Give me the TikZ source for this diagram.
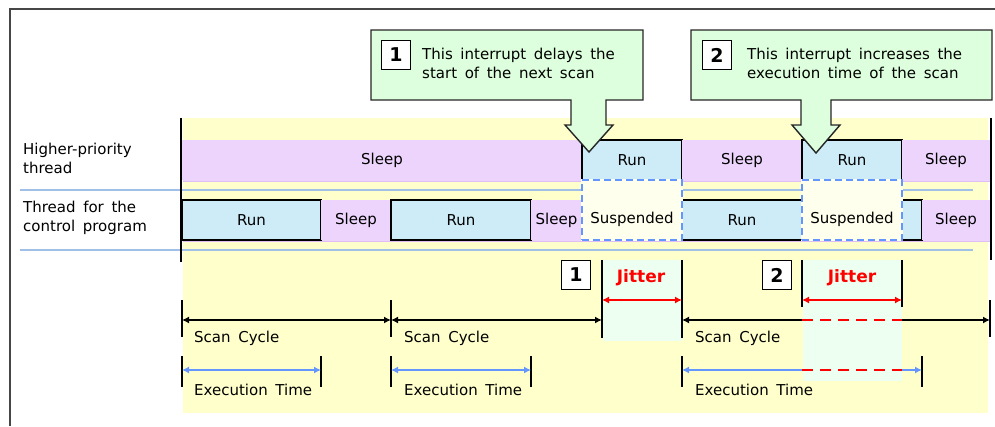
\documentclass[tikz,border=0pt]{standalone}
\usepackage{fontspec}
\setmainfont{DejaVu Sans}[WordSpace=1.6]
\usetikzlibrary{arrows.meta}
\definecolor{bgyellow}{RGB}{255,255,204}
\definecolor{sleeppurple}{RGB}{236,212,252}
\definecolor{sleepedge}{RGB}{222,190,245}
\definecolor{runblue}{RGB}{206,236,248}
\definecolor{suspfill}{RGB}{255,255,238}
\definecolor{dashblue}{RGB}{100,150,255}
\definecolor{sepblue}{RGB}{160,192,232}
\definecolor{calloutgreen}{RGB}{221,255,221}
\definecolor{jittergreen}{RGB}{236,255,240}
\definecolor{framegray}{RGB}{70,70,70}

\begin{document}
\begin{tikzpicture}[x=1pt, y=-1pt,
    every node/.style={font=\fontsize{15}{19}\selectfont},
    seg/.style={inner sep=0pt, minimum height=40pt},
    sleepseg/.style={seg, fill=sleeppurple},
    runseg/.style={seg, fill=runblue, draw=black, line width=1.7pt},
    suspseg/.style={inner sep=0pt, minimum width=100pt, minimum height=60pt, fill=suspfill, draw=suspfill, line width=2.4pt,
        postaction={draw=dashblue, dash pattern=on 7pt off 4pt, line width=1.6pt}},
    badge/.style={draw, fill=white, line width=1.6pt, minimum width=29pt, minimum height=29pt, inner sep=0pt,
        font=\fontsize{19}{19}\selectfont\bfseries},
    callout/.style={draw=black!85, fill=calloutgreen, line width=1.4pt, line join=miter},
    sep/.style={draw=sepblue, line width=2pt},
    tick/.style={line width=1.7pt},
    dim/.style={line width=1.7pt, >={Latex[length=7pt,width=7pt]}},
    jit/.style={text=red, font=\fontsize{17}{17}\selectfont\bfseries},
    lbl/.style={anchor=west, align=left, inner sep=0pt}]

\useasboundingbox (0,0) rectangle (995,426);
\draw[framegray, line width=1.8pt] (10,426) -- (10,9) -- (995,9);

% background of the time chart
\fill[bgyellow] (183,118) rectangle (988,413);
\fill[sleeppurple] (183,140) rectangle (990,181);
\fill[sleeppurple] (183,200) rectangle (990,241);
\draw[sleepedge, line width=0.8pt] (183,140) -- (990,140) (183,181) -- (990,181) (183,200) -- (990,200) (183,241) -- (990,241);
\draw[sep] (20,190) -- (973,190);
\draw[sep] (20,250) -- (973,250);

% thread names
\node[lbl] (hpt) at (23,158) {Higher-priority\\thread};
\node[lbl] (cpt) at (23,218) {Thread for the\\control program};

% higher-priority thread
\node[sleepseg, minimum width=400pt] (hs1) at (382,160) {Sleep};
\node[runseg, minimum width=100pt] (hr1) at (632,160) {Run};
\node[sleepseg, minimum width=120pt] (hs2) at (742,160) {Sleep};
\node[runseg, minimum width=100pt] (hr2) at (852,160) {Run};
\node[sleepseg, minimum width=88pt] (hs3) at (946,160) {Sleep};

% thread for the control program
\node[runseg, minimum width=139pt] (cr1) at (251.5,220) {Run};
\node[sleepseg, minimum width=70pt] (cs1) at (356,220) {Sleep};
\node[runseg, minimum width=140pt] (cr2) at (461,220) {Run};
\node[sleepseg, minimum width=51pt] (cs2) at (556.5,220) {Sleep};
\node[runseg, minimum width=120pt] (cr3) at (742,220) {Run};
\node[runseg, minimum width=20pt] (cr4) at (912,220) {};
\node[sleepseg, minimum width=68pt] (cs3) at (956,220) {Sleep};
\node[suspseg] (su1) at (632,210) {};
\node[suspseg] (su2) at (852,210) {};
\node (su1t) at (632,219) {Suspended};
\node (su2t) at (852,219) {Suspended};

\draw[line width=1.6pt] (181,118) -- (181,262);
\draw[line width=1.6pt] (991,118) -- (991,260);

% callouts
\draw[callout] (371,30) -- (643,30) -- (643,100) -- (606,100) -- (606,125) -- (613,125) -- (589,152)
    -- (565,125) -- (571,125) -- (571,100) -- (371,100) -- cycle;
\node[badge] (n1) at (396,55) {1};
\node[lbl] (t1) at (422,63) {This interrupt delays the\\start of the next scan};
\draw[callout] (691,30) -- (992,30) -- (992,100) -- (831,100) -- (831,125) -- (840,125) -- (816,153)
    -- (792,125) -- (801,125) -- (801,100) -- (691,100) -- cycle;
\node[badge] (n2) at (717,55) {2};
\node[lbl] (t2) at (747,63) {This interrupt increases the\\execution time of the scan};

% jitter areas
\fill[jittergreen] (603,260) rectangle (682,341);
\fill[jittergreen] (803,260) rectangle (902,381);
\node[badge] (j1) at (576,275) {1};
\node[badge] (j2) at (777,275) {2};
\node[jit] (jt1) at (641,278) {Jitter};
\node[jit] (jt2) at (852,278) {Jitter};

% ticks
\draw[tick] (182,300) -- (182,337) (391,300) -- (391,337) (990,300) -- (990,337);
\draw[tick] (602,260) -- (602,338) (682,260) -- (682,338);
\draw[tick] (802,260) -- (802,307) (902,260) -- (902,307);
\draw[tick] (182,356) -- (182,387) (321,356) -- (321,387) (391,356) -- (391,387)
    (531,356) -- (531,387) (682,356) -- (682,387) (922,356) -- (922,387);

% scan cycle
\coordinate (s0) at (182,320);
\coordinate (s1) at (391,320);
\coordinate (s2) at (602,320);
\coordinate (s3) at (682,320);
\coordinate (s4) at (802,320);
\coordinate (s5) at (902,320);
\coordinate (s6) at (990,320);
\draw[dim, <->] (s0) -- (s1);
\draw[dim, <->] (s1) -- (s2);
\draw[dim, <-] (s3) -- (s4);
\draw[dim, red, dash pattern=on 11pt off 7pt] (s4) -- (s5);
\draw[dim, ->] (s5) -- (s6);
\node[lbl] (l1) at (194,338) {Scan Cycle};
\node[lbl] (l2) at (404,338) {Scan Cycle};
\node[lbl] (l3) at (695,338) {Scan Cycle};

% execution time
\coordinate (e0) at (182,370);
\coordinate (e1) at (321,370);
\coordinate (e2) at (391,370);
\coordinate (e3) at (531,370);
\coordinate (e4) at (682,370);
\coordinate (e5) at (802,370);
\coordinate (e6) at (902,370);
\coordinate (e7) at (922,370);
\draw[dim, dashblue, <->] (e0) -- (e1);
\draw[dim, dashblue, <->] (e2) -- (e3);
\draw[dim, dashblue, <-] (e4) -- (e5);
\draw[dim, red, dash pattern=on 11pt off 7pt] (e5) -- (e6);
\draw[dim, dashblue, ->] (e6) -- (e7);
\node[lbl] (x1) at (194,390) {Execution Time};
\node[lbl] (x2) at (404,390) {Execution Time};
\node[lbl] (x3) at (695,390) {Execution Time};

% jitter
\coordinate (ja) at (602,300);
\coordinate (jb) at (682,300);
\coordinate (jc) at (802,300);
\coordinate (jd) at (902,300);
\draw[dim, red, <->] (ja) -- (jb);
\draw[dim, red, <->] (jc) -- (jd);
\end{tikzpicture}
\end{document}
